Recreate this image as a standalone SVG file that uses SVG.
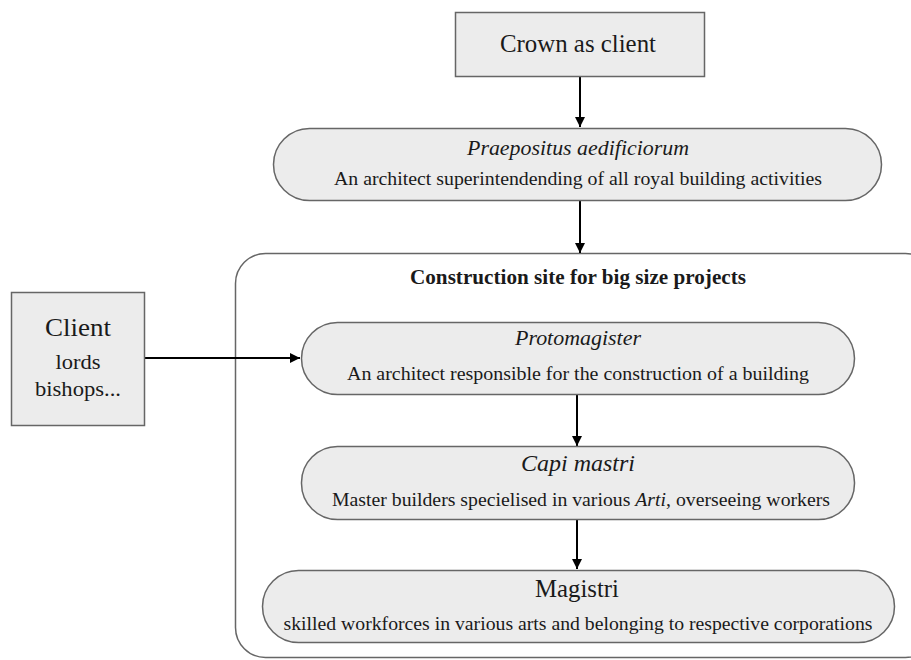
<svg xmlns="http://www.w3.org/2000/svg" width="911" height="660" viewBox="0 0 911 660">
  <style>
    .box { fill: #ececec; stroke: #666; stroke-width: 1.5; }
    .frame { fill: none; stroke: #666; stroke-width: 1.5; }
    .conn { stroke: #000; stroke-width: 2; fill: none; marker-end: url(#arrow); }
    text { font-family: "Liberation Serif", "Times New Roman", serif; fill: #1a1a1a; text-anchor: middle; }
    .head { font-size: 22px; font-style: italic; }
    .sub { font-size: 19px; }
    .big { font-size: 25px; }
    .title { font-size: 20px; font-weight: bold; }
  </style>
  <defs>
    <marker id="arrow" viewBox="0 0 10 10" refX="10" refY="5" markerWidth="5" markerHeight="5" markerUnits="strokeWidth" orient="auto">
      <path d="M0,0 L10,5 L0,10 z" fill="#000"/>
    </marker>
  </defs>

  <!-- outer frame of the construction site -->
  <g id="site">
    <rect class="frame" x="235.5" y="253.5" width="700" height="404" rx="30" ry="30"/>
    <text class="title" x="578" y="284" textLength="336" lengthAdjust="spacingAndGlyphs">Construction site for big size projects</text>
  </g>

  <g id="connectors">
    <line class="conn" x1="580" y1="76" x2="580" y2="127"/>
    <line class="conn" x1="580" y1="201" x2="580" y2="253"/>
    <line class="conn" x1="145" y1="358" x2="300" y2="358"/>
    <line class="conn" x1="577" y1="395" x2="577" y2="446"/>
    <line class="conn" x1="577" y1="520" x2="577" y2="569"/>
  </g>

  <g id="crown">
    <rect class="box" x="455.5" y="12.5" width="249" height="64"/>
    <text class="big" x="578" y="52" textLength="156" lengthAdjust="spacingAndGlyphs">Crown as client</text>
  </g>

  <g id="praepositus">
    <rect class="box" x="273.5" y="128.5" width="608" height="72" rx="36" ry="36"/>
    <text class="head" x="578" y="155" textLength="222" lengthAdjust="spacingAndGlyphs">Praepositus aedificiorum</text>
    <text class="sub" x="578" y="185" textLength="488" lengthAdjust="spacingAndGlyphs">An architect superintendending of all royal building activities</text>
  </g>

  <g id="client">
    <rect class="box" x="11.5" y="292.5" width="133" height="133"/>
    <text class="big" x="78" y="336" textLength="66" lengthAdjust="spacingAndGlyphs">Client</text>
    <text class="sub" x="78" y="369" style="font-size:22px" textLength="45" lengthAdjust="spacingAndGlyphs">lords</text>
    <text class="sub" x="78" y="396" style="font-size:22px" textLength="86" lengthAdjust="spacingAndGlyphs">bishops...</text>
  </g>

  <g id="protomagister">
    <rect class="box" x="301.5" y="322.5" width="553" height="72" rx="36" ry="36"/>
    <text class="head" x="578" y="345" textLength="126" lengthAdjust="spacingAndGlyphs">Protomagister</text>
    <text class="sub" x="578" y="380" textLength="462" lengthAdjust="spacingAndGlyphs">An architect responsible for the construction of a building</text>
  </g>

  <g id="capi-mastri">
    <rect class="box" x="301.5" y="446.5" width="553" height="73" rx="36" ry="36"/>
    <text class="head" x="578" y="471" style="font-size:24px" textLength="114" lengthAdjust="spacingAndGlyphs">Capi mastri</text>
    <text class="sub" x="581" y="506" textLength="498" lengthAdjust="spacingAndGlyphs">Master builders specielised in various <tspan font-style="italic">Arti</tspan>, overseeing workers</text>
  </g>

  <g id="magistri">
    <rect class="box" x="262.5" y="570.5" width="632" height="72" rx="36" ry="36"/>
    <text class="big" x="577" y="597" textLength="84" lengthAdjust="spacingAndGlyphs">Magistri</text>
    <text class="sub" x="578" y="630" textLength="589" lengthAdjust="spacingAndGlyphs">skilled workforces in various arts and belonging to respective corporations</text>
  </g>
</svg>
